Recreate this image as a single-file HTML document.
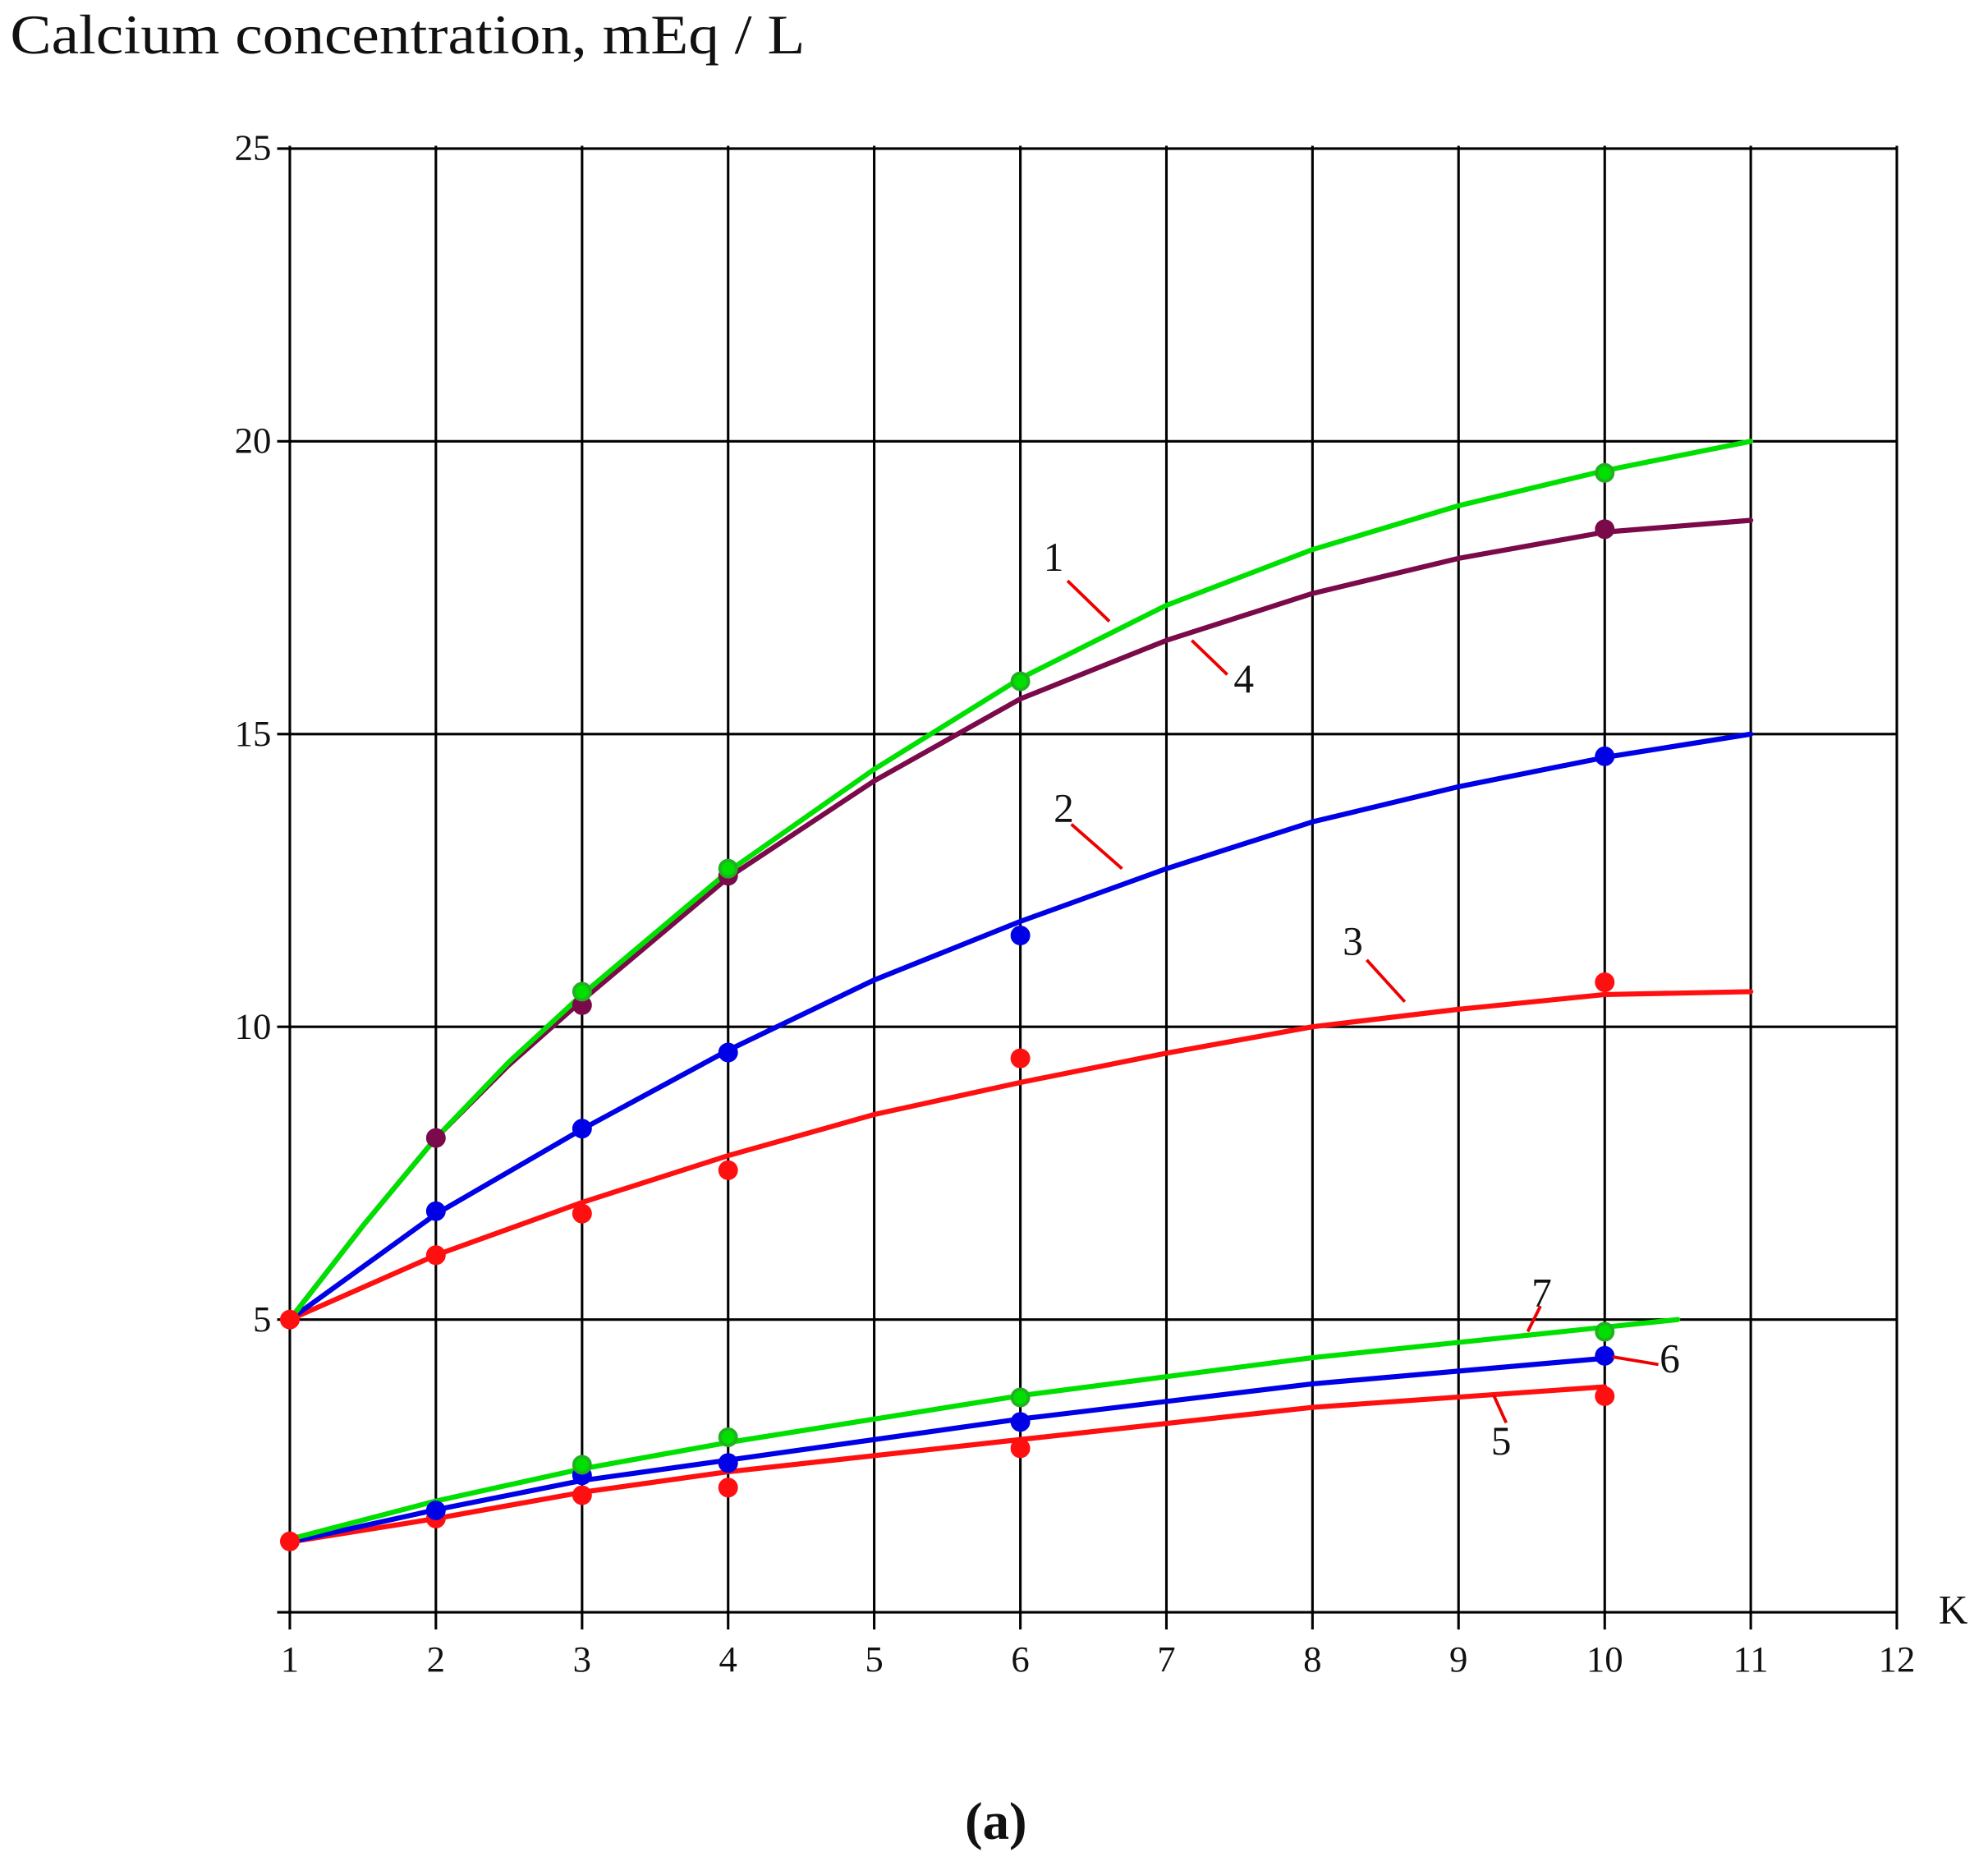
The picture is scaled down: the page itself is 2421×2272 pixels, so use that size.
<!DOCTYPE html>
<html><head><meta charset="utf-8"><style>
html,body{margin:0;padding:0;background:#fff;}
svg{display:block;}
text{font-family:"Liberation Serif",serif;fill:#111;}
</style></head><body>
<svg width="2421" height="2272" viewBox="0 0 1568 1471.5" xmlns="http://www.w3.org/2000/svg">
<text x="8" y="42" font-size="44" textLength="627" lengthAdjust="spacingAndGlyphs">Calcium concentration, mEq / L</text>
<g stroke="#000" stroke-width="2">
<line x1="228.6" y1="115" x2="228.6" y2="1285"/>
<line x1="343.8" y1="115" x2="343.8" y2="1285"/>
<line x1="459.1" y1="115" x2="459.1" y2="1285"/>
<line x1="574.3" y1="115" x2="574.3" y2="1285"/>
<line x1="689.5" y1="115" x2="689.5" y2="1285"/>
<line x1="804.8" y1="115" x2="804.8" y2="1285"/>
<line x1="920.0" y1="115" x2="920.0" y2="1285"/>
<line x1="1035.2" y1="115" x2="1035.2" y2="1285"/>
<line x1="1150.4" y1="115" x2="1150.4" y2="1285"/>
<line x1="1265.7" y1="115" x2="1265.7" y2="1285"/>
<line x1="1380.9" y1="115" x2="1380.9" y2="1285"/>
<line x1="1496.1" y1="115" x2="1496.1" y2="1285"/>
<line x1="218.6" y1="117.2" x2="1496.1" y2="117.2"/>
<line x1="218.6" y1="348.0" x2="1496.1" y2="348.0"/>
<line x1="218.6" y1="578.9" x2="1496.1" y2="578.9"/>
<line x1="218.6" y1="809.7" x2="1496.1" y2="809.7"/>
<line x1="218.6" y1="1040.6" x2="1496.1" y2="1040.6"/>
<line x1="218.6" y1="1271.4" x2="1496.1" y2="1271.4"/>
</g>
<g font-size="29" text-anchor="middle">
<text x="228.6" y="1318">1</text><text x="343.8" y="1318">2</text><text x="459.1" y="1318">3</text>
<text x="574.3" y="1318">4</text><text x="689.5" y="1318">5</text><text x="804.8" y="1318">6</text>
<text x="920.0" y="1318">7</text><text x="1035.2" y="1318">8</text><text x="1150.4" y="1318">9</text>
<text x="1265.7" y="1318">10</text><text x="1380.9" y="1318">11</text><text x="1496.1" y="1318">12</text>
</g>
<g font-size="29" text-anchor="end">
<text x="214" y="126">25</text><text x="214" y="357">20</text><text x="214" y="588">15</text>
<text x="214" y="819">10</text><text x="214" y="1050">5</text>
</g>
<g fill="none" stroke-width="4" stroke-linejoin="round" stroke-linecap="round">
<polyline stroke="#ff1010" points="228.6,1040.6 343.8,989.8 459.1,948.2 574.3,911.3 689.5,878.9 804.8,853.6 920.0,830.5 1035.2,809.7 1150.4,795.9 1265.7,784.3 1380.9,782.0"/>
<polyline stroke="#0000e6" points="228.6,1040.6 343.8,957.4 459.1,890.5 574.3,828.2 689.5,772.8 804.8,726.6 920.0,685.0 1035.2,648.1 1150.4,620.4 1265.7,597.3 1380.9,578.9"/>
<polyline stroke="#7a0a4a" points="228.6,1040.6 286.2,966.7 343.8,897.4 401.5,839.7 459.1,788.9 574.3,692.0 689.5,615.8 804.8,551.1 920.0,505.0 1035.2,468.0 1150.4,440.3 1265.7,419.6 1380.9,410.3"/>
<polyline stroke="#00e000" points="228.6,1040.6 286.2,966.7 343.8,897.4 401.5,837.4 459.1,784.3 574.3,687.3 689.5,606.6 804.8,535.0 920.0,477.3 1035.2,433.4 1150.4,398.8 1265.7,371.1 1380.9,348.0"/>
<polyline stroke="#ff1010" points="228.6,1216.0 343.8,1197.5 459.1,1176.8 574.3,1160.6 804.8,1135.2 1035.2,1109.8 1265.7,1093.6"/>
<polyline stroke="#0000e6" points="228.6,1216.0 343.8,1190.6 459.1,1167.5 574.3,1151.4 804.8,1119.0 1035.2,1091.3 1271.4,1070.6"/>
<polyline stroke="#00e000" points="228.6,1213.7 343.8,1183.7 459.1,1158.3 574.3,1137.5 804.8,1100.6 1035.2,1070.6 1323.3,1040.6"/>
</g>
<g stroke-width="2.5">
<g fill="#ff1010" stroke="#ff1010">
<circle cx="228.6" cy="1040.6" r="6.5"/><circle cx="343.8" cy="989.8" r="6.5"/><circle cx="459.1" cy="957.0" r="6.5"/>
<circle cx="574.3" cy="922.8" r="6.5"/><circle cx="804.8" cy="834.6" r="6.5"/><circle cx="1265.7" cy="774.6" r="6.5"/>
<circle cx="228.6" cy="1215.5" r="6.5"/><circle cx="343.8" cy="1197.5" r="6.5"/><circle cx="459.1" cy="1179.1" r="6.5"/>
<circle cx="574.3" cy="1173.1" r="6.5"/><circle cx="804.8" cy="1142.1" r="6.5"/><circle cx="1265.7" cy="1101.0" r="6.5"/>
</g>
<g fill="#0000e6" stroke="#0000e6">
<circle cx="343.8" cy="955.1" r="6.5"/><circle cx="459.1" cy="890.0" r="6.5"/><circle cx="574.3" cy="830.0" r="6.5"/>
<circle cx="804.8" cy="737.7" r="6.5"/><circle cx="1265.7" cy="596.4" r="6.5"/>
<circle cx="343.8" cy="1191.1" r="6.5"/><circle cx="459.1" cy="1163.4" r="6.5"/><circle cx="574.3" cy="1153.7" r="6.5"/>
<circle cx="804.8" cy="1121.3" r="6.5"/><circle cx="1265.7" cy="1069.2" r="6.5"/>
</g>
<g fill="#7a0a4a" stroke="#7a0a4a">
<circle cx="343.8" cy="897.4" r="6.5"/><circle cx="459.1" cy="792.6" r="6.5"/><circle cx="574.3" cy="690.6" r="6.5"/>
<circle cx="1265.7" cy="417.3" r="6.5"/>
</g>
<g fill="#00e000" stroke="#22b022">
<circle cx="459.1" cy="782.0" r="6.5"/><circle cx="574.3" cy="685.0" r="6.5"/><circle cx="804.8" cy="537.3" r="6.5"/>
<circle cx="1265.7" cy="372.9" r="6.5"/>
<circle cx="459.1" cy="1155.1" r="6.5"/><circle cx="574.3" cy="1133.4" r="6.5"/><circle cx="804.8" cy="1102.0" r="6.5"/>
<circle cx="1265.7" cy="1050.2" r="6.5"/>
</g>
</g>
<g stroke="#e00" stroke-width="2.5" fill="none">
<line x1="842" y1="458" x2="875" y2="490"/>
<line x1="940" y1="505" x2="968" y2="532"/>
<line x1="845" y1="650" x2="885" y2="685"/>
<line x1="1078" y1="757" x2="1108" y2="790"/>
<line x1="1215" y1="1030" x2="1205" y2="1050"/>
<line x1="1272" y1="1070" x2="1308" y2="1076"/>
<line x1="1178" y1="1100" x2="1188" y2="1122"/>
</g>
<g font-size="32">
<text x="823" y="450">1</text>
<text x="973" y="546">4</text>
<text x="831" y="648">2</text>
<text x="1059" y="753">3</text>
<text x="1208" y="1030">7</text>
<text x="1309" y="1082">6</text>
<text x="1176" y="1147">5</text>
<text x="1529" y="1280">K</text>
</g>
<text x="761" y="1450" font-size="42" font-weight="bold">(a)</text>
</svg>
</body></html>
